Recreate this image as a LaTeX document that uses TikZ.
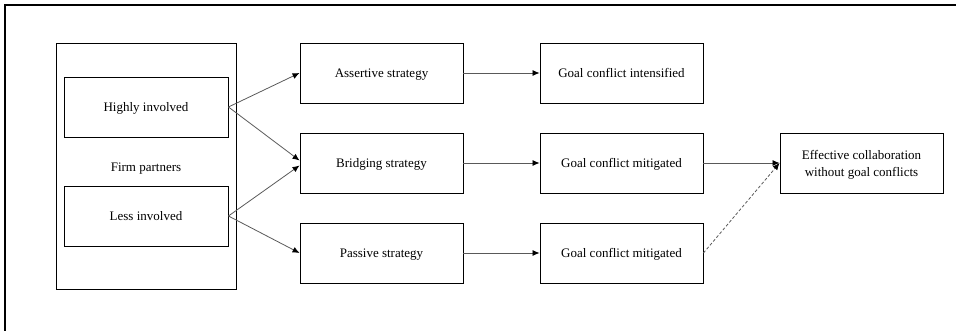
\documentclass[tikz,border=0pt]{standalone}
\usepackage{fontspec}
\setmainfont{Liberation Serif}
\usetikzlibrary{arrows.meta}
\tikzset{
  box/.style={draw=black, line width=0.9pt, minimum width=163pt, minimum height=60pt,
    inner sep=0pt, align=center, text depth=0pt, font=\fontsize{13}{17}\selectfont},
  link/.style={draw=black!65, line width=0.8pt, -{Latex[length=7pt,width=6pt,black]}},
  dashlink/.style={link, dash pattern=on 3pt off 2pt},
}
\begin{document}
\begin{tikzpicture}[x=1pt,y=-1pt]
\useasboundingbox (0,0) rectangle (956,331);
% frame lines
\draw[line width=1.2pt] (5,331) -- (5,5) -- (956,5);

% partner group
\node[box, minimum width=180pt, minimum height=246pt] (partners) at (146,166) {};
\node[box, minimum width=164pt] (high) at (146,107) {Highly involved};
\node[box, minimum width=164pt] (less) at (146,216) {Less involved};
\node[font=\fontsize{13}{15}\selectfont, text depth=0pt] (firm) at (146,167) {Firm partners};

% strategies
\node[box] (assert) at (381.5,73) {Assertive strategy};
\node[box] (bridge) at (381.5,163) {Bridging strategy};
\node[box] (passive) at (381.5,253) {Passive strategy};

% outcomes
\node[box] (gint) at (621.5,73) {Goal conflict intensified};
\node[box] (gmit1) at (621.5,163) {Goal conflict mitigated};
\node[box] (gmit2) at (621.5,253) {Goal conflict mitigated};

\node[box] (eff) at (861.5,163) {Effective collaboration\\without goal conflicts};

% connectors (the two arrows into the bridging box end just apart)
\draw[link] (high.east) -- (assert.west);
\draw[link] (high.east) -- ([yshift=2.5pt]bridge.west);
\draw[link] (less.east) -- ([yshift=-2.5pt]bridge.west);
\draw[link] (less.east) -- (passive.west);
\draw[link] (assert) -- (gint);
\draw[link] (bridge) -- (gmit1);
\draw[link] (passive) -- (gmit2);
\draw[link] (gmit1) -- (eff);
\draw[dashlink] (gmit2.east) -- (eff.west);
\end{tikzpicture}
\end{document}
